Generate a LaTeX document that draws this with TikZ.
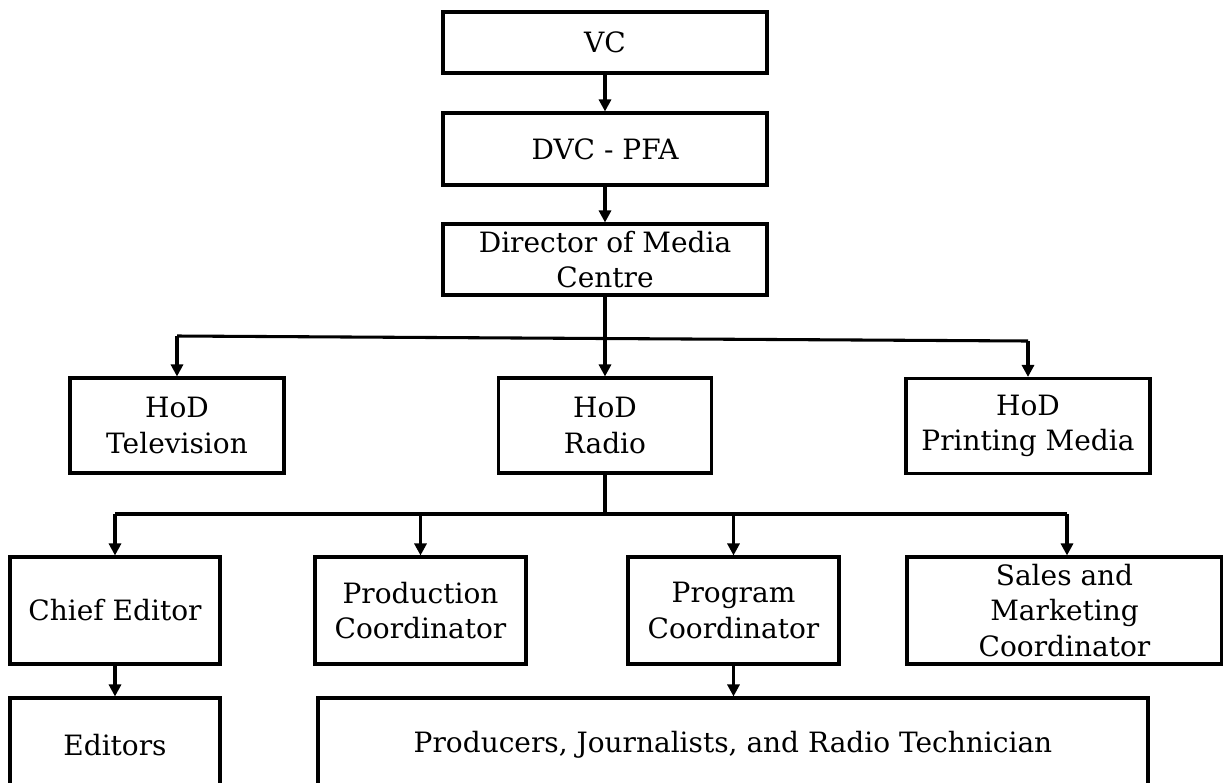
\documentclass[tikz,border=0pt]{standalone}
\usepackage{fontspec}
\setmainfont{DejaVu Serif}
\usetikzlibrary{arrows.meta}
\begin{document}
\begin{tikzpicture}[x=0.75pt,y=-0.75pt,
  box/.style={draw,line width=2.3pt,inner sep=0pt,align=center,
    font=\fontsize{21}{26.5}\selectfont},
  ln/.style={line width=2.3pt},
  arr/.style={line width=2.3pt,-{Triangle[length=9pt,width=9pt]}}]
\useasboundingbox (0,0) rectangle (1223,782);
\clip (0,0) rectangle (1223,782);
% level 1-3
\node[box,minimum width=243pt,minimum height=45.75pt] (vc) at (605,42.5) {VC};
\node[box,minimum width=243pt,minimum height=54pt] (dvc) at (605,149) {DVC - PFA};
\node[box,minimum width=243pt,minimum height=53.25pt] (dir) at (605,259.5) {Director of Media\\Centre};
% HoD row
\node[box,minimum width=160.5pt,minimum height=71.25pt] (tv) at (177,425.5) {HoD\\Television};
\node[box,minimum width=159.75pt,minimum height=71.25pt] (radio) at (605,425.5) {HoD\\Radio};
\node[box,minimum width=183pt,minimum height=71.25pt] (print) at (1028,426) {HoD\\Printing Media};
% level 4
\node[box,minimum width=157.5pt,minimum height=80.25pt] (chief) at (115,610.5) {Chief Editor};
\node[box,minimum width=158.25pt,minimum height=80.25pt] (prod) at (420.5,610.5) {Production\\Coordinator};
\node[box,minimum width=158.25pt,minimum height=80.25pt] (prog) at (733.5,610.5) {Program\\Coordinator};
\node[box,minimum width=236.25pt,minimum height=80.25pt] (sales) at (1064.5,610.5) {Sales and\\Marketing\\Coordinator};
% level 5
\node[box,minimum width=157.5pt,minimum height=70.5pt] (editors) at (115,745) {Editors};
\node[box,minimum width=622.5pt,minimum height=70.5pt] (staff) at (733,745) {Producers, Journalists, and Radio Technician};
% connectors
\draw[arr] (vc) -- (dvc);
\draw[arr] (dvc) -- (dir);
\coordinate (bl) at (177,336);
\coordinate (br) at (1028,341);
\draw[ln] (bl) -- (br);
\draw[arr] (dir.south) -- (radio.north);
\draw[arr] (bl) -- (bl |- tv.north);
\draw[arr] (br) -- (br |- print.north);
\coordinate (rj) at (605,514);
\coordinate (cl) at (115,514);
\coordinate (cp) at (420.5,514);
\coordinate (cg) at (733.5,514);
\coordinate (cs) at (1067,514);
\draw[ln] (radio.south) -- (rj);
\draw[ln] (cl) -- (cs);
\draw[arr] (cl) -- (chief.north);
\draw[arr] (cp) -- (prod.north);
\draw[arr] (cg) -- (prog.north);
\draw[arr] (cs) -- (cs |- sales.north);
\draw[arr] (chief) -- (editors);
\draw[arr] (prog.south) -- (prog.south |- staff.north);
\end{tikzpicture}
\end{document}
